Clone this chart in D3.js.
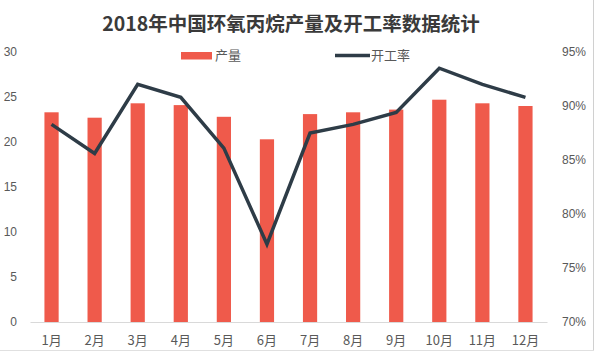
<!DOCTYPE html>
<html>
<head>
<meta charset="utf-8">
<script src="https://cdn.jsdelivr.net/npm/d3@7"></script>
<style>
  body { margin: 0; background: #fff; }
  svg { display: block; font-family: "Noto Sans CJK SC", "Noto Sans", sans-serif; }
</style>
</head>
<body>
<div id="chart"></div>
<script>
const months = ["1月", "2月", "3月", "4月", "5月", "6月", "7月", "8月", "9月", "10月", "11月", "12月"];
const output = [23.3, 22.7, 24.3, 24.1, 22.8, 20.3, 23.1, 23.3, 23.6, 24.7, 24.3, 24.0];
const rate = [88.3, 85.6, 92.0, 90.8, 86.1, 77.2, 87.5, 88.3, 89.4, 93.5, 92.0, 90.8];
const leftTicks = [0, 5, 10, 15, 20, 25, 30];
const rightTicks = [70, 75, 80, 85, 90, 95];

const width = 596;
const height = 353;
const margin = { top: 52, right: 49, bottom: 31, left: 30 };

const svg = d3.select("#chart")
  .append("svg")
  .attr("width", width)
  .attr("height", height);

const x = d3.scaleBand()
  .domain(months)
  .range([margin.left, width - margin.right])
  .paddingInner(0.67)
  .paddingOuter(0.335);

const y = d3.scaleLinear()
  .domain([0, 30])
  .range([height - margin.bottom, margin.top]);

const y2 = d3.scaleLinear()
  .domain([70, 95])
  .range([height - margin.bottom, margin.top]);

// title
svg.append("text")
  .attr("x", 291)
  .attr("y", 31)
  .attr("text-anchor", "middle")
  .attr("font-size", 19.5)
  .attr("font-weight", "bold")
  .attr("fill", "#3a3a3a")
  .text("2018年中国环氧丙烷产量及开工率数据统计");

// legend
svg.append("rect")
  .attr("x", 181).attr("y", 52)
  .attr("width", 31).attr("height", 7.5)
  .attr("fill", "#ef5a4b");
svg.append("text")
  .attr("x", 215).attr("y", 60)
  .attr("font-size", 13).attr("fill", "#595959")
  .text("产量");
svg.append("line")
  .attr("x1", 335).attr("x2", 370)
  .attr("y1", 55.5).attr("y2", 55.5)
  .attr("stroke", "#2e3c47").attr("stroke-width", 3.5);
svg.append("text")
  .attr("x", 371).attr("y", 60)
  .attr("font-size", 13).attr("fill", "#595959")
  .text("开工率");

// bars
svg.append("g")
  .attr("fill", "#ef5a4b")
  .selectAll("rect")
  .data(output)
  .join("rect")
  .attr("x", (d, i) => x(months[i]))
  .attr("y", d => y(d))
  .attr("width", x.bandwidth())
  .attr("height", d => y(0) - y(d));

// baseline + x labels
const xAxis = svg.append("g")
  .attr("transform", `translate(0,${height - margin.bottom})`)
  .call(d3.axisBottom(x).tickSize(0).tickPadding(14));
xAxis.select(".domain").attr("stroke", "#d9d9d9");
xAxis.selectAll("text")
  .attr("font-size", 13)
  .attr("fill", "#595959")
  .style("font-family", "'Noto Sans CJK SC', sans-serif");

// left axis
const yAxis = svg.append("g")
  .attr("transform", "translate(17,0)")
  .call(d3.axisLeft(y).tickValues(leftTicks).tickSize(0).tickPadding(0));
yAxis.select(".domain").remove();
yAxis.selectAll("text").attr("font-size", 12).attr("fill", "#595959");

// right axis
const yAxis2 = svg.append("g")
  .attr("transform", "translate(562,0)")
  .call(d3.axisRight(y2).tickValues(rightTicks).tickSize(0).tickPadding(0).tickFormat(d => d + "%"));
yAxis2.select(".domain").remove();
yAxis2.selectAll("text").attr("font-size", 12).attr("fill", "#595959");

// rate line
const line = d3.line()
  .x((d, i) => x(months[i]) + x.bandwidth() / 2)
  .y(d => y2(d));

svg.append("path")
  .datum(rate)
  .attr("fill", "none")
  .attr("stroke", "#2e3c47")
  .attr("stroke-width", 3.5)
  .attr("stroke-linejoin", "miter")
  .attr("d", line);

// frame edges
svg.append("line")
  .attr("x1", 593.5).attr("x2", 593.5).attr("y1", 0).attr("y2", 351)
  .attr("stroke", "#d0d0d0");
svg.append("line")
  .attr("x1", 0).attr("x2", 594).attr("y1", 350.5).attr("y2", 350.5)
  .attr("stroke", "#e0e0e0");
</script>
</body>
</html>
